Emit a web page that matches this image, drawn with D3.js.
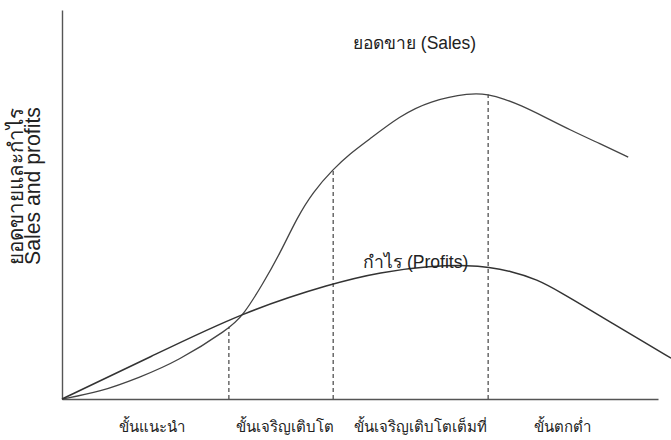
<!DOCTYPE html>
<html>
<head>
<meta charset="utf-8">
<script src="https://cdn.jsdelivr.net/npm/d3@7"></script>
<style>
html,body{margin:0;padding:0;background:#fff;}
svg{display:block;}
text{font-family:"Liberation Sans","DejaVu Sans",sans-serif;fill:#222;}
</style>
</head>
<body>
<svg id="chart" width="671" height="440"></svg>
<script>
// Time (arbitrary units) vs level (arbitrary units)
const salesX = [0, 0.64, 1.31, 1.93, 2.80, 3.04, 3.37, 3.66, 3.94, 4.21, 4.55, 4.83, 5.12, 5.67, 6.17, 6.85, 7.15, 7.43, 7.68, 8.10, 8.52, 9.03, 9.50];
const salesY = [0, 1.8, 5.6, 9.6, 18.0, 21.5, 29.6, 37.5, 46.5, 53.2, 59.1, 63.0, 66.3, 72.8, 76.6, 78.7, 78.3, 77.1, 75.6, 72.5, 69.2, 65.6, 62.2];
const profitX = [0, 1.48, 3.04, 4.55, 5.34, 6.17, 6.85, 7.15, 7.52, 7.97, 8.39, 8.81, 9.23, 9.65, 10.22];
const profitY = [0, 10.8, 22.4, 29.8, 32.6, 34.2, 34.4, 33.9, 32.9, 30.8, 27.2, 23.4, 19.5, 15.7, 10.5];
const stageBoundX = [2.80, 4.55, 7.15];
const stageBoundTop = [18.6, 59.1, 78.3];
const stageLabels = ["ขั้นแนะนำ", "ขั้นเจริญเติบโต", "ขั้นเจริญเติบโตเต็มที่", "ขั้นตกต่ำ"];
const stageLabelX = [1.51, 3.74, 6.02, 8.39];
const yTitle = ["ยอดขายและกำไร", "Sales and profits"];
const salesLabel = "ยอดขาย (Sales)";
const profitLabel = "กำไร (Profits)";

const svg = d3.select("#chart");
const x = d3.scaleLinear().domain([0, 10]).range([62, 658]);
const y = d3.scaleLinear().domain([0, 100]).range([399, 10]);

// fit a text element's font size so its width matches a target width
function fit(sel, target) {
  sel.each(function() {
    const el = d3.select(this);
    const fs = parseFloat(el.attr("font-size"));
    const w = this.getComputedTextLength();
    if (w > 0) el.attr("font-size", (fs * target / w).toFixed(2));
  });
  return sel;
}

// axes (plain lines, no ticks)
svg.append("g").attr("transform", `translate(0,${y(0)})`)
  .call(d3.axisBottom(x).ticks(0).tickSize(0).tickSizeOuter(0))
  .call(g => g.select(".domain").attr("stroke", "#555").attr("stroke-width", 1.4));
svg.append("g").attr("transform", `translate(${x(0)},0)`)
  .call(d3.axisLeft(y).ticks(0).tickSize(0).tickSizeOuter(0))
  .call(g => g.select(".domain").attr("stroke", "#555").attr("stroke-width", 1.4));

// stage boundaries
svg.append("g").selectAll("line").data(stageBoundX).join("line")
  .attr("x1", d => x(d)).attr("x2", d => x(d))
  .attr("y1", y(0)).attr("y2", (d, i) => y(stageBoundTop[i]))
  .attr("stroke", "#444").attr("stroke-width", 1.2).attr("stroke-dasharray", "4,3");

const line = d3.line().x(d => x(d[0])).y(d => y(d[1])).curve(d3.curveBasis);
svg.append("path").datum(d3.zip(salesX, salesY)).attr("d", line)
  .attr("fill", "none").attr("stroke", "#444").attr("stroke-width", 1.3);
svg.append("path").datum(d3.zip(profitX, profitY)).attr("d", line)
  .attr("fill", "none").attr("stroke", "#333").attr("stroke-width", 1.5);

// curve labels
fit(svg.append("text").attr("x", 353).attr("y", 49).attr("font-size", 15).text(salesLabel), 124);
fit(svg.append("text").attr("x", 363).attr("y", 268).attr("font-size", 15).text(profitLabel), 105);

// stage labels
svg.append("g").selectAll("text").data(stageLabels).join("text")
  .attr("x", (d, i) => x(stageLabelX[i])).attr("y", 432)
  .attr("text-anchor", "middle").attr("font-size", 15).text(d => d);

// y title
svg.append("g").attr("transform", "translate(0,186) rotate(-90)")
  .selectAll("text").data(yTitle).join("text")
  .attr("x", 0).attr("y", (d, i) => 23 + i * 17)
  .attr("text-anchor", "middle").attr("font-size", 17).attr("fill", "#333").text(d => d)
  .each(function() { fit(d3.select(this), 158); });
</script>
</body>
</html>
